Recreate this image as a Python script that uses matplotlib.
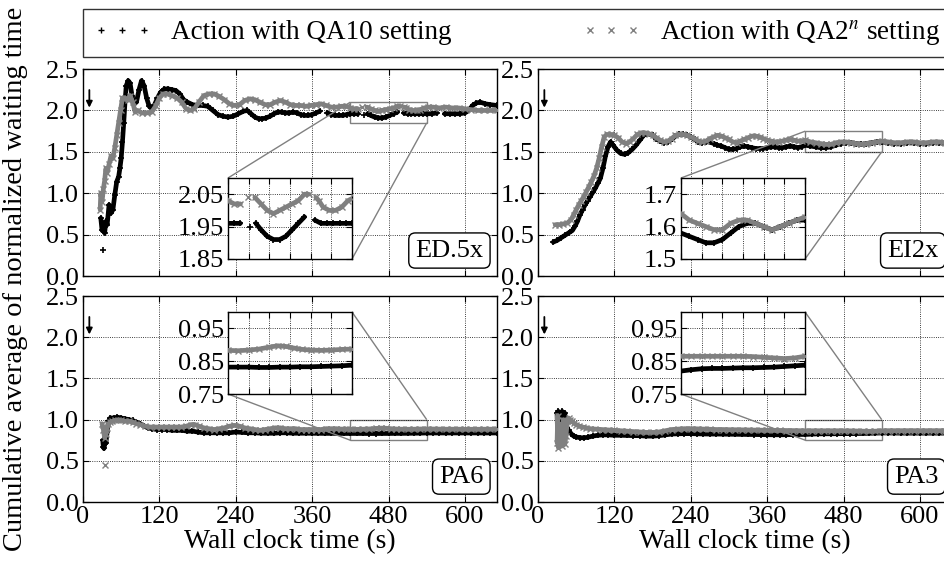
import numpy as np
import matplotlib
matplotlib.use('Agg')
import matplotlib.pyplot as plt
from matplotlib.lines import Line2D
from mpl_toolkits.axes_grid1.inset_locator import mark_inset

nan = np.nan

# ED.5x
ed5x_qa10_t = [28, 30, 31, 32, 33, 34, 36, 38, 41, 44,
               47, 50, 53, 56, 58, 60, 62, 64, 66, 68,
               71, 74, 77, 80, 84, 88, 92, 96, 100, 104,
               108, 112, 117, 122, 128, 134, 140, 146, 152, 158,
               164, 172, 180, 188, 196, 204, 212, 220, 228, 236,
               244, 252, 258, 264, 270, 276, 282, 288, 294, 300,
               306, 312, 318, 324, 330, 336, 342, 348, 354, 360,
               366, 372, 378, 384, 390, 396, 402, 408, 414, 420,
               426, 432, 437, 441, 444, 447, 452, 458, 464, 470,
               476, 482, 488, 494, 499, 504, 510, 516, 522, 528,
               534, 540, 548, 556, 562, 568, 576, 584, 592, 600,
               606, 612, 618, 624, 632, 640, 650]
ed5x_qa10_v = [0.70, 0.55, nan, 0.31, nan, 0.52, 0.66, 0.62, 0.86, 0.76,
               0.80, 0.98, 1.14, 1.20, 1.30, 1.42, 1.62, 1.85, 2.10, 2.30,
               2.36, 2.33, 2.18, 2.08, 2.10, 2.25, 2.36, 2.30, 2.15, 2.05,
               2.02, 2.06, 2.15, 2.22, 2.26, 2.26, 2.25, 2.24, 2.20, 2.13,
               2.10, 2.07, 2.06, 2.06, 2.05, 2.00, 1.95, 1.93, 1.92, 1.93,
               1.96, 1.99, 2.00, 1.96, 1.92, 1.90, 1.90, 1.91, 1.93, 1.96,
               1.98, 1.98, 1.97, 1.97, 1.98, 1.97, 1.95, 1.94, 1.94, 1.95,
               1.97, 1.99, nan, 1.97, 1.95, 1.94, 1.94, 1.94, 1.95, 1.96,
               1.96, 1.96, nan, 1.95, nan, 1.96, 1.94, 1.92, 1.91, 1.91,
               1.92, 1.94, 1.96, 1.98, nan, 1.97, 1.96, 1.96, 1.96, 1.96,
               1.96, 1.96, 1.96, 1.97, nan, 1.96, 1.96, 1.96, 1.96, 1.97,
               2.00, 2.06, 2.09, 2.10, 2.08, 2.07, 2.06]
ed5x_qa2n_t = [27, 28, 30, 32, 34, 36, 38, 41, 44, 47,
               50, 53, 56, 59, 62, 66, 70, 74, 78, 82,
               86, 92, 100, 108, 114, 120, 126, 132, 140, 148,
               155, 162, 168, 175, 182, 190, 198, 206, 214, 222,
               230, 238, 246, 254, 262, 270, 278, 286, 294, 302,
               310, 318, 326, 334, 342, 350, 358, 366, 374, 382,
               390, 398, 406, 414, 420, 426, 432, 435, 439, 443,
               446, 452, 458, 464, 470, 476, 482, 488, 494, 498,
               502, 505, 508, 512, 518, 524, 530, 536, 542, 550,
               560, 570, 580, 590, 600, 610, 620, 630, 640, 650]
ed5x_qa2n_v = [0.80, 1.00, 0.90, 1.05, 1.15, 1.30, 1.25, 1.35, 1.45, 1.42,
               1.55, 1.70, 1.85, 2.00, 2.15, 2.15, 2.12, 2.18, 2.10, 1.98,
               2.00, 1.97, 1.97, 1.98, 2.05, 2.15, 2.20, 2.20, 2.18, 2.15,
               2.10, 2.02, 2.00, 2.02, 2.10, 2.18, 2.20, 2.20, 2.17, 2.13,
               2.08, 2.06, 2.07, 2.12, 2.14, 2.13, 2.10, 2.07, 2.07, 2.10,
               2.12, 2.10, 2.07, 2.06, 2.06, 2.05, 2.06, 2.07, 2.08, 2.06,
               2.04, 2.04, 2.05, 2.05, 2.03, 2.02, 2.02, nan, 2.04, nan,
               2.04, 2.02, 2.00, 1.99, 2.00, 2.01, 2.02, 2.03, 2.05, 2.05,
               nan, 2.04, 2.03, 2.01, 2.00, 2.00, 2.01, 2.03, 2.04, 2.04,
               2.03, 2.04, 2.03, 2.03, 2.02, 2.01, 2.00, 2.00, 2.00, 2.00]

# EI2x
ei2x_qa10_t = [24, 30, 36, 42, 48, 54, 58, 62, 66, 70,
               74, 78, 82, 86, 90, 94, 98, 102, 106, 110,
               114, 118, 124, 130, 136, 142, 148, 154, 160, 166,
               172, 180, 186, 192, 198, 204, 210, 216, 222, 228,
               234, 240, 246, 252, 258, 264, 270, 276, 282, 288,
               294, 300, 306, 312, 318, 324, 330, 336, 342, 348,
               354, 360, 366, 372, 378, 384, 390, 396, 402, 408,
               414, 420, 428, 436, 444, 452, 460, 468, 476, 484,
               492, 500, 508, 516, 524, 532, 540, 550, 560, 570,
               580, 590, 600, 610, 620, 630, 640, 650]
ei2x_qa10_v = [0.41, 0.43, 0.46, 0.49, 0.52, 0.55, 0.60, 0.66, 0.74, 0.80,
               0.86, 0.91, 0.96, 1.01, 1.06, 1.12, 1.18, 1.30, 1.45, 1.56,
               1.62, 1.58, 1.52, 1.48, 1.47, 1.49, 1.53, 1.58, 1.64, 1.70,
               1.72, 1.70, 1.66, 1.63, 1.61, 1.62, 1.65, 1.69, 1.71, 1.71,
               1.70, 1.68, 1.65, 1.62, 1.61, 1.62, 1.62, 1.60, 1.58, 1.57,
               1.55, 1.53, 1.53, 1.54, 1.56, 1.57, 1.56, 1.55, 1.54, 1.54,
               1.54, 1.55, 1.56, 1.56, 1.55, 1.55, 1.56, 1.57, 1.56, 1.55,
               1.56, 1.58, 1.57, 1.56, 1.55, 1.55, 1.56, 1.58, 1.60, 1.61,
               1.61, 1.60, 1.59, 1.60, 1.61, 1.62, 1.62, 1.61, 1.60, 1.60,
               1.61, 1.61, 1.60, 1.60, 1.61, 1.61, 1.60, 1.60]
ei2x_qa2n_t = [27, 33, 40, 46, 52, 56, 60, 64, 68, 72,
               76, 80, 84, 88, 92, 96, 100, 104, 108, 114,
               120, 126, 132, 138, 144, 150, 156, 162, 168, 174,
               180, 186, 192, 198, 204, 210, 216, 222, 228, 234,
               240, 246, 252, 258, 264, 270, 276, 282, 288, 294,
               300, 306, 312, 318, 324, 330, 336, 342, 348, 354,
               360, 366, 372, 378, 384, 390, 396, 402, 408, 414,
               420, 428, 436, 444, 452, 460, 468, 476, 484, 492,
               500, 508, 516, 524, 532, 540, 550, 560, 570, 580,
               590, 600, 610, 620, 630, 640, 650]
ei2x_qa2n_v = [0.62, 0.62, 0.63, 0.64, 0.68, 0.74, 0.80, 0.86, 0.91, 0.96,
               1.02, 1.08, 1.14, 1.21, 1.30, 1.42, 1.56, 1.68, 1.71, 1.71,
               1.70, 1.67, 1.62, 1.60, 1.62, 1.66, 1.71, 1.73, 1.73, 1.72,
               1.70, 1.67, 1.64, 1.62, 1.63, 1.66, 1.70, 1.71, 1.71, 1.70,
               1.68, 1.66, 1.63, 1.62, 1.63, 1.66, 1.68, 1.70, 1.69, 1.67,
               1.65, 1.62, 1.61, 1.63, 1.65, 1.67, 1.69, 1.69, 1.68, 1.66,
               1.64, 1.63, 1.62, 1.62, 1.63, 1.64, 1.65, 1.64, 1.63, 1.63,
               1.64, 1.62, 1.61, 1.60, 1.59, 1.59, 1.61, 1.62, 1.62, 1.61,
               1.60, 1.59, 1.60, 1.61, 1.62, 1.63, 1.62, 1.61, 1.61, 1.62,
               1.62, 1.61, 1.61, 1.62, 1.62, 1.61, 1.61]

# PA6
pa6_qa10_t = [31, 32, 33, 34, 36, 38, 40, 43, 48, 54,
              60, 66, 72, 78, 84, 90, 96, 102, 108, 116,
              124, 132, 140, 148, 156, 164, 172, 180, 190, 200,
              210, 220, 230, 240, 250, 260, 270, 280, 290, 300,
              310, 320, 330, 340, 350, 360, 370, 380, 390, 400,
              410, 420, 430, 440, 450, 460, 470, 480, 490, 500,
              510, 520, 530, 540, 550, 560, 570, 580, 590, 600,
              610, 620, 630, 640, 650]
pa6_qa10_v = [0.75, 0.67, 0.65, 0.70, 0.72, 0.85, 0.98, 1.02, 1.02, 1.03,
              1.02, 1.01, 1.00, 0.99, 0.97, 0.95, 0.92, 0.90, 0.89, 0.88,
              0.88, 0.88, 0.87, 0.87, 0.87, 0.86, 0.86, 0.85, 0.84, 0.84,
              0.84, 0.84, 0.84, 0.85, 0.845, 0.84, 0.84, 0.835, 0.835, 0.835,
              0.84, 0.84, 0.835, 0.835, 0.835, 0.834, 0.834, 0.833, 0.833, 0.833,
              0.832, 0.832, 0.832, 0.832, 0.831, 0.831, 0.832, 0.832, 0.833, 0.833,
              0.834, 0.835, 0.836, 0.838, 0.838, 0.838, 0.838, 0.838, 0.838, 0.838,
              0.838, 0.838, 0.838, 0.838, 0.838]
pa6_qa2n_t = [30, 32, 34, 34.5, 35, 35.5, 36, 38, 40, 43,
              46, 50, 55, 60, 66, 72, 78, 84, 90, 98,
              106, 114, 122, 130, 138, 146, 154, 162, 170, 176,
              182, 190, 198, 206, 214, 222, 230, 238, 246, 254,
              262, 270, 278, 286, 294, 302, 310, 318, 326, 334,
              342, 350, 358, 366, 374, 382, 390, 398, 406, 414,
              420, 430, 440, 450, 460, 468, 476, 484, 492, 500,
              510, 520, 530, 540, 550, 560, 570, 580, 590, 600,
              610, 620, 630, 640, 650]
pa6_qa2n_v = [0.95, 0.88, 0.78, nan, 0.45, nan, 0.82, 0.90, 0.95, 0.97,
              0.98, 0.99, 0.99, 0.99, 0.98, 0.98, 0.97, 0.95, 0.94, 0.92,
              0.91, 0.91, 0.91, 0.91, 0.91, 0.91, 0.91, 0.92, 0.94, 0.94,
              0.92, 0.90, 0.89, 0.88, 0.89, 0.90, 0.92, 0.93, 0.92, 0.90,
              0.89, 0.88, 0.87, 0.88, 0.89, 0.90, 0.90, 0.89, 0.89, 0.89,
              0.88, 0.88, 0.88, 0.88, 0.88, 0.89, 0.89, 0.89, 0.885, 0.885,
              0.883, 0.882, 0.884, 0.887, 0.893, 0.897, 0.895, 0.890, 0.886, 0.884,
              0.883, 0.884, 0.886, 0.887, 0.886, 0.885, 0.884, 0.884, 0.884, 0.883,
              0.883, 0.883, 0.884, 0.884, 0.884]

# PA3
pa3_qa10_t = [30, 31, 32, 33, 34, 36, 38, 40, 42, 44,
              46, 48, 52, 56, 60, 66, 72, 78, 86, 94,
              102, 110, 120, 130, 140, 150, 160, 170, 180, 190,
              200, 210, 220, 230, 240, 250, 260, 270, 280, 290,
              300, 310, 320, 330, 340, 350, 360, 370, 380, 390,
              400, 410, 420, 430, 440, 450, 460, 470, 480, 490,
              500, 510, 520, 530, 540, 550, 560, 570, 580, 590,
              600, 610, 620, 630, 640, 650]
pa3_qa10_v = [1.08, 0.75, 1.10, 0.80, 1.05, 0.85, 1.10, 0.90, 1.08, 0.95,
              0.90, 0.87, 0.83, 0.80, 0.79, 0.78, 0.78, 0.785, 0.80, 0.81,
              0.815, 0.815, 0.81, 0.81, 0.808, 0.806, 0.805, 0.80, 0.80, 0.805,
              0.815, 0.825, 0.828, 0.83, 0.83, 0.828, 0.826, 0.825, 0.825, 0.824,
              0.823, 0.822, 0.821, 0.82, 0.819, 0.818, 0.817, 0.816, 0.816, 0.817,
              0.818, 0.82, 0.82, 0.824, 0.827, 0.828, 0.828, 0.829, 0.83, 0.83,
              0.831, 0.832, 0.834, 0.836, 0.838, 0.838, 0.837, 0.836, 0.836, 0.836,
              0.836, 0.836, 0.836, 0.836, 0.836, 0.836]
pa3_qa2n_t = [30, 31, 32, 33, 34, 36, 38, 40, 42, 44,
              46, 48, 50, 53, 56, 60, 65, 70, 76, 82,
              90, 100, 110, 120, 130, 140, 150, 160, 170, 180,
              190, 200, 210, 220, 230, 240, 250, 260, 270, 280,
              290, 300, 310, 320, 330, 340, 350, 360, 370, 380,
              390, 400, 410, 420, 430, 440, 450, 460, 470, 480,
              490, 500, 510, 520, 530, 540, 550, 560, 570, 580,
              590, 600, 610, 620, 630, 640, 650]
pa3_qa2n_v = [0.72, 1.05, 0.66, 0.95, 0.70, 0.90, 0.68, 1.00, 0.70, 0.80,
              0.98, 1.02, 1.00, 0.98, 0.96, 0.94, 0.92, 0.91, 0.90, 0.89,
              0.885, 0.88, 0.875, 0.87, 0.865, 0.86, 0.855, 0.85, 0.845, 0.845,
              0.85, 0.865, 0.88, 0.885, 0.89, 0.89, 0.888, 0.885, 0.883, 0.88,
              0.88, 0.878, 0.877, 0.876, 0.875, 0.873, 0.872, 0.871, 0.87, 0.869,
              0.868, 0.867, 0.866, 0.865, 0.865, 0.865, 0.865, 0.865, 0.865, 0.865,
              0.864, 0.862, 0.86, 0.858, 0.86, 0.865, 0.866, 0.866, 0.866, 0.866,
              0.866, 0.866, 0.866, 0.866, 0.866, 0.866, 0.866]

panel_names = ['ED.5x', 'EI2x', 'PA6', 'PA3']
inset_ylims = [(1.85, 2.10), (1.50, 1.75), (0.75, 1.00), (0.75, 1.00)]
inset_yticks = [[1.85, 1.95, 2.05], [1.5, 1.6, 1.7], [0.75, 0.85, 0.95], [0.75, 0.85, 0.95]]
inset_ylabels = [['1.85', '1.95', '2.05'], ['1.5', '1.6', '1.7'],
                 ['0.75', '0.85', '0.95'], ['0.75', '0.85', '0.95']]
main_xticks = [0, 120, 240, 360, 480, 600]
main_yticks = [0.0, 0.5, 1.0, 1.5, 2.0, 2.5]
zoom_x = (420, 540)

plt.rcParams['font.family'] = ['Liberation Serif', 'DejaVu Serif']
plt.rcParams['mathtext.fontset'] = 'stix'
plt.rcParams['xtick.direction'] = 'in'
plt.rcParams['ytick.direction'] = 'in'

fig = plt.figure(figsize=(9.44, 5.64), dpi=100)

main_pos = [[0.0879, 0.5106, 0.4383, 0.3670],
            [0.5699, 0.5106, 0.4383, 0.3670],
            [0.0879, 0.1099, 0.4383, 0.3652],
            [0.5699, 0.1099, 0.4383, 0.3652]]
inset_pos = [[0.2415, 0.5408, 0.1314, 0.1436],
             [0.7214, 0.5408, 0.1314, 0.1436],
             [0.2415, 0.3014, 0.1314, 0.1454],
             [0.7214, 0.3014, 0.1314, 0.1454]]

series = [(ed5x_qa10_t, ed5x_qa10_v, ed5x_qa2n_t, ed5x_qa2n_v),
          (ei2x_qa10_t, ei2x_qa10_v, ei2x_qa2n_t, ei2x_qa2n_v),
          (pa6_qa10_t, pa6_qa10_v, pa6_qa2n_t, pa6_qa2n_v),
          (pa3_qa10_t, pa3_qa10_v, pa3_qa2n_t, pa3_qa2n_v)]


def draw(ax, t1, v1, t2, v2):
    ax.plot(t1, v1, color='k', lw=3.4, marker='+', ms=5, mew=1.2,
            solid_capstyle='round', zorder=2)
    ax.plot(t2, v2, color='0.5', lw=3.4, marker='x', ms=4, mew=1.0,
            solid_capstyle='round', zorder=3)


def style(ax, size):
    ax.grid(True, linestyle=':', color='k', lw=0.6)
    ax.tick_params(top=True, right=True, length=4, width=0.8, labelsize=size, pad=3)
    for s in ax.spines.values():
        s.set_linewidth(1.0)


for i in range(4):
    t1, v1, t2, v2 = series[i]
    ax = fig.add_axes(main_pos[i])
    draw(ax, t1, v1, t2, v2)
    ax.set_xlim(0, 650)
    ax.set_ylim(0, 2.5)
    ax.set_xticks(main_xticks)
    ax.set_yticks(main_yticks)
    ax.set_yticklabels(['%.1f' % y for y in main_yticks])
    style(ax, 19)
    if i < 2:
        ax.set_xticklabels([])
    else:
        ax.set_xlabel('Wall clock time (s)', fontsize=20, labelpad=1)
    ax.annotate('', xy=(10, 2.0), xytext=(10, 2.28),
                arrowprops=dict(arrowstyle='-|>', color='k', lw=1.3, mutation_scale=9))
    ax.text(0.968, 0.07, panel_names[i], transform=ax.transAxes, ha='right', va='bottom',
            fontsize=19, zorder=10,
            bbox=dict(boxstyle='round,pad=0.25', fc='white', ec='k', lw=1.0))

    ins = fig.add_axes(inset_pos[i])
    draw(ins, t1, v1, t2, v2)
    ins.set_xlim(*zoom_x)
    ins.set_ylim(*inset_ylims[i])
    ins.set_xticks(range(420, 541, 20))
    ins.set_xticklabels([])
    ins.set_yticks(inset_yticks[i])
    ins.set_yticklabels(inset_ylabels[i])
    style(ins, 19)
    if i < 2:
        mark_inset(ax, ins, loc1=2, loc2=4, fc='none', ec='0.5', lw=1.0)
    else:
        mark_inset(ax, ins, loc1=1, loc2=3, fc='none', ec='0.5', lw=1.0)

fig.text(0.016, 0.505, 'Cumulative average of normalized waiting time', rotation=90,
         ha='center', va='center', fontsize=20.5)

handles = [Line2D([], [], color='k', marker='+', ls='none', ms=5, mew=1.0),
           Line2D([], [], color='0.5', marker='x', ls='none', ms=4, mew=1.0)]
labels = ['Action with QA10 setting', r'Action with QA2$^n$ setting']
fig.legend(handles, labels, loc='lower left', ncol=2, mode='expand',
           bbox_to_anchor=(0.0879, 0.899, 0.918, 0.09), numpoints=3,
           handlelength=2.2, handletextpad=0.7,
           fontsize=19.5, frameon=True, fancybox=False,
           edgecolor='k', borderaxespad=0.0, borderpad=0.35)

fig.savefig('out.png', dpi=100)
